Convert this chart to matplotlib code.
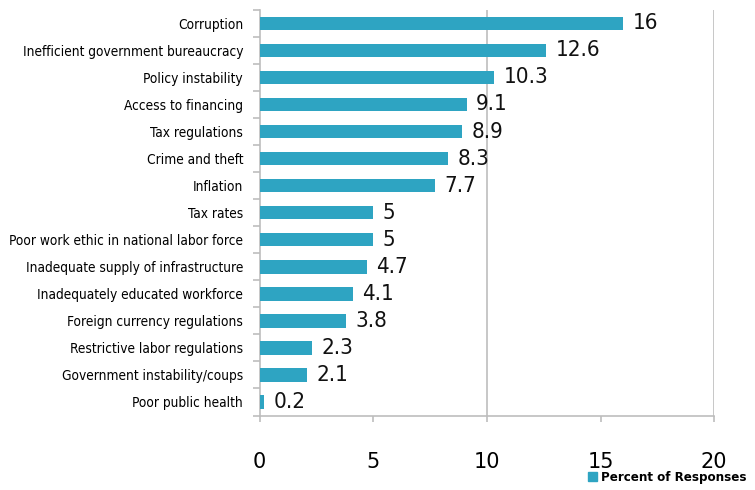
import matplotlib
matplotlib.use("Agg")
import matplotlib.pyplot as plt
import numpy as np

# Data, top to bottom as in the chart
factors = [
    "Corruption",
    "Inefficient government bureaucracy",
    "Policy instability",
    "Access to financing",
    "Tax regulations",
    "Crime and theft",
    "Inflation",
    "Tax rates",
    "Poor work ethic in national labor force",
    "Inadequate supply of infrastructure",
    "Inadequately educated workforce",
    "Foreign currency regulations",
    "Restrictive labor regulations",
    "Government instability/coups",
    "Poor public health",
]
percent = [16, 12.6, 10.3, 9.1, 8.9, 8.3, 7.7, 5, 5, 4.7, 4.1, 3.8, 2.3, 2.1, 0.2]
value_labels = ["16", "12.6", "10.3", "9.1", "8.9", "8.3", "7.7", "5", "5",
                "4.7", "4.1", "3.8", "2.3", "2.1", "0.2"]
xticks = [0, 5, 10, 15, 20]

bar_color = "#2ea4c2"
grid_color = "#bdbdbd"
plt.rcParams["font.family"] = ["DejaVu Sans"]

fig = plt.figure(figsize=(7.55, 4.9), dpi=100)
ax = fig.add_axes([0.344, 0.152, 0.602, 0.828])

y = np.arange(len(factors))
ax.barh(y, percent, height=0.5, color=bar_color, zorder=3)

for yi, v, lab in zip(y, percent, value_labels):
    ax.text(v + 0.42, yi, lab, va="center", ha="left", fontsize=16,
            color="#111111", fontstretch="condensed")

ax.set_xlim(0, 20)
ax.set_ylim(len(factors) - 0.5, -0.5)

# gridlines only at 10 and 20
for gx in [10, 20]:
    ax.axvline(gx, color=grid_color, lw=1.2, zorder=1)

ax.set_yticks(y)
ax.set_yticklabels(factors, fontsize=9.8, fontstretch="condensed")
ax.set_yticks(np.arange(-0.5, len(factors), 1), minor=True)
ax.tick_params(axis="y", which="major", length=0, pad=12)
ax.tick_params(axis="y", which="minor", length=5, color=grid_color, width=1.2)

ax.set_xticks(xticks)
ax.set_xticklabels([str(t) for t in xticks], fontsize=15)
ax.tick_params(axis="x", length=4, color=grid_color, width=1.2, pad=22)

for side in ["top", "right"]:
    ax.spines[side].set_visible(False)
for side in ["left", "bottom"]:
    ax.spines[side].set_color(grid_color)
    ax.spines[side].set_linewidth(1.2)

handle = plt.Rectangle((0, 0), 1, 1, color=bar_color)
fig.legend([handle], ["Percent of Responses"], loc="lower right",
           bbox_to_anchor=(1.005, -0.012), frameon=False, handlelength=0.7,
           handleheight=0.7, handletextpad=0.3,
           prop={"size": 9.5, "weight": "bold", "stretch": "condensed"})

fig.savefig("out.png", dpi=100)
